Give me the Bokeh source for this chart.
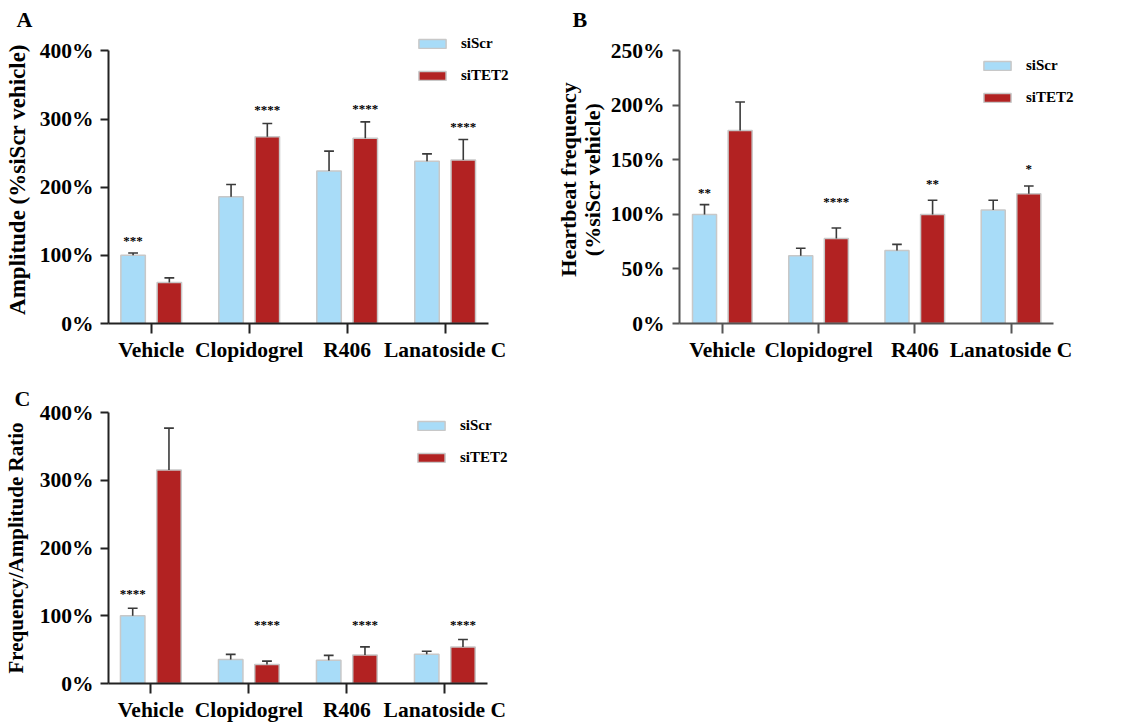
from bokeh.plotting import figure
from bokeh.layouts import row, column
from bokeh.models import (Range1d, FixedTicker, PrintfTickFormatter, Legend,
                          LegendItem)
from bokeh.core.properties import value
from bokeh.embed import file_html
from bokeh.resources import INLINE

# ---------------- data ----------------
categories = ["Vehicle", "Clopidogrel", "R406", "Lanatoside C"]
groups = ["siScr", "siTET2"]

amp_siscr = [100, 186, 224, 238]
amp_siscr_err = [3.5, 18, 29, 11]
amp_sitet2 = [60, 274, 272, 240]
amp_sitet2_err = [7, 19.5, 24, 30]
amp_sig_text = ["***", "****", "****", "****"]
amp_sig_group = ["siScr", "siTET2", "siTET2", "siTET2"]
amp_sig_y = [123, 316, 317, 290]
amp_yticks = [0, 100, 200, 300, 400]

freq_siscr = [100, 62, 67, 104]
freq_siscr_err = [9, 7, 5.5, 9]
freq_sitet2 = [177, 78, 100, 119]
freq_sitet2_err = [26, 9.5, 13, 7]
freq_sig_text = ["**", "****", "**", "*"]
freq_sig_group = ["siScr", "siTET2", "siTET2", "siTET2"]
freq_sig_y = [121, 113, 129, 143]
freq_yticks = [0, 50, 100, 150, 200, 250]

ratio_siscr = [100, 35.5, 34.5, 43]
ratio_siscr_err = [11, 7.5, 7, 4.5]
ratio_sitet2 = [315, 28, 42, 54]
ratio_sitet2_err = [62, 5, 12, 11]
ratio_sig_text = ["****", "****", "****", "****"]
ratio_sig_group = ["siScr", "siTET2", "siTET2", "siTET2"]
ratio_sig_y = [135, 88, 88, 88]
ratio_yticks = [0, 100, 200, 300, 400]

# ---------------- style ----------------
FONT = "Liberation Serif"
BLUE = "#a8dcf8"
RED = "#b22222"
EDGE = "#c8c8c8"
ERR = "#3a3a3a"
OFFSET = {"siScr": -0.185, "siTET2": 0.185}
BAR_W = 0.25
CAP = 0.05


def make_panel(width, height, left, right, top, bottom, xr, x_axis_end, y_top,
               yticks, ylabel, ylabel_size, ylabel_standoff,
               siscr, siscr_err, sitet2, sitet2_err,
               sig_text, sig_group, sig_y, letter, letter_offset, letter_standoff,
               legend_xy, axis_color, ytick_out, label_standoff, multiline=False):
    p = figure(width=width, height=height,
               x_range=Range1d(*xr), y_range=Range1d(yticks[0], y_top),
               output_backend="svg", toolbar_location=None,
               min_border_left=left, min_border_right=right,
               min_border_top=top, min_border_bottom=bottom)
    p.outline_line_color = None
    p.xgrid.grid_line_color = None
    p.ygrid.grid_line_color = None
    p.background_fill_color = "white"

    # panel letter as the plot title
    p.title.text = letter
    p.title.align = "left"
    p.title.offset = letter_offset
    p.title.standoff = letter_standoff
    p.title.text_font = FONT
    p.title.text_font_style = "bold"
    p.title.text_font_size = "22px"
    p.title.text_color = "black"

    idx = list(range(len(categories)))
    renderers = {}
    for g, vals, errs, col in [("siScr", siscr, siscr_err, BLUE),
                               ("siTET2", sitet2, sitet2_err, RED)]:
        xs = [i + OFFSET[g] for i in idx]
        r = p.vbar(x=xs, width=BAR_W, top=vals, bottom=0, fill_color=col,
                   line_color=EDGE, line_width=1.5)
        renderers[g] = r
        tops = [v + e for v, e in zip(vals, errs)]
        p.segment(x0=xs, y0=vals, x1=xs, y1=tops, line_color=ERR, line_width=1.6)
        p.segment(x0=[x - CAP for x in xs], y0=tops, x1=[x + CAP for x in xs],
                  y1=tops, line_color=ERR, line_width=1.6)

    sx = [i + OFFSET[g] for i, g in zip(idx, sig_group)]
    p.text(x=sx, y=sig_y, text=sig_text, text_font=value(FONT),
           text_font_style="bold", text_font_size="13px", text_align="center",
           text_baseline="middle", text_color="black", y_offset=1)

    # axes
    p.xaxis.ticker = FixedTicker(ticks=idx)
    p.xaxis.major_label_overrides = {i: c for i, c in enumerate(categories)}
    p.xaxis.bounds = (xr[0], x_axis_end)
    p.yaxis.ticker = FixedTicker(ticks=yticks)
    p.yaxis.formatter = PrintfTickFormatter(format="%d%%")
    p.yaxis.bounds = (yticks[0], yticks[-1])
    for ax in [p.xaxis[0], p.yaxis[0]]:
        ax.axis_line_color = axis_color
        ax.axis_line_width = 2
        ax.major_tick_line_color = axis_color
        ax.major_tick_line_width = 2
        ax.minor_tick_line_color = None
        ax.major_tick_in = 0
        ax.major_label_text_font = FONT
        ax.major_label_text_font_style = "bold"
        ax.major_label_text_font_size = "21.5px"
        ax.major_label_text_color = "black"
    p.xaxis.major_tick_out = 10
    p.xaxis.major_label_standoff = 4
    p.yaxis.major_tick_out = ytick_out
    p.yaxis.major_label_standoff = label_standoff
    p.yaxis.axis_label = ylabel
    p.yaxis.axis_label_text_font = FONT
    p.yaxis.axis_label_text_font_style = "bold"
    p.yaxis.axis_label_text_font_size = ylabel_size
    p.yaxis.axis_label_text_color = "black"
    p.yaxis.axis_label_standoff = ylabel_standoff
    if multiline:
        p.yaxis.axis_label_text_line_height = 0.95

    legend = Legend(items=[LegendItem(label=g, renderers=[renderers[g]]) for g in groups],
                    location=legend_xy, orientation="vertical",
                    glyph_width=34, glyph_height=11, label_height=11,
                    label_standoff=12, spacing=15, padding=0, margin=0,
                    border_line_color=None, background_fill_alpha=0,
                    label_text_font=FONT, label_text_font_style="bold",
                    label_text_font_size="15px", label_text_color="black")
    p.add_layout(legend)
    return p


# Panel A: frame x 105..515, y 34..323 (page px)
pA = make_panel(552, 372, 105, 37, 34, 49, (-0.436, 3.718), 3.445, 422.7,
                amp_yticks, "Amplitude (%siScr vehicle)", "23px", 7,
                amp_siscr, amp_siscr_err, amp_sitet2, amp_sitet2_err,
                amp_sig_text, amp_sig_group, amp_sig_y,
                "A", -92, 8, (307, 239), "#222222", 8, 7)

# Panel B: frame x 677..1090, y 34..323
pB = make_panel(578, 372, 125, 40, 34, 49, (-0.445, 3.826), 3.44, 264.0,
                freq_yticks, "Heartbeat frequency\n(%siScr vehicle)", "22px", 3,
                freq_siscr, freq_siscr_err, freq_sitet2, freq_sitet2_err,
                freq_sig_text, freq_sig_group, freq_sig_y,
                "B", -107, 8, (301, 217), "#555555", 7, 8, multiline=True)

# Panel C: frame x 107..518, y 412..685
pC = make_panel(552, 352, 107, 34, 40, 39, (-0.432, 3.721), 3.44, 400,
                ratio_yticks, "Frequency/Amplitude Ratio", "21px", 9,
                ratio_siscr, ratio_siscr_err, ratio_sitet2, ratio_sitet2_err,
                ratio_sig_text, ratio_sig_group, ratio_sig_y,
                "C", -94, 3, (306, 217), "#222222", 8, 7)

layout = row(column(pA, pC, spacing=0), pB, spacing=0)
open("out.html", "w").write(file_html(layout, INLINE))
